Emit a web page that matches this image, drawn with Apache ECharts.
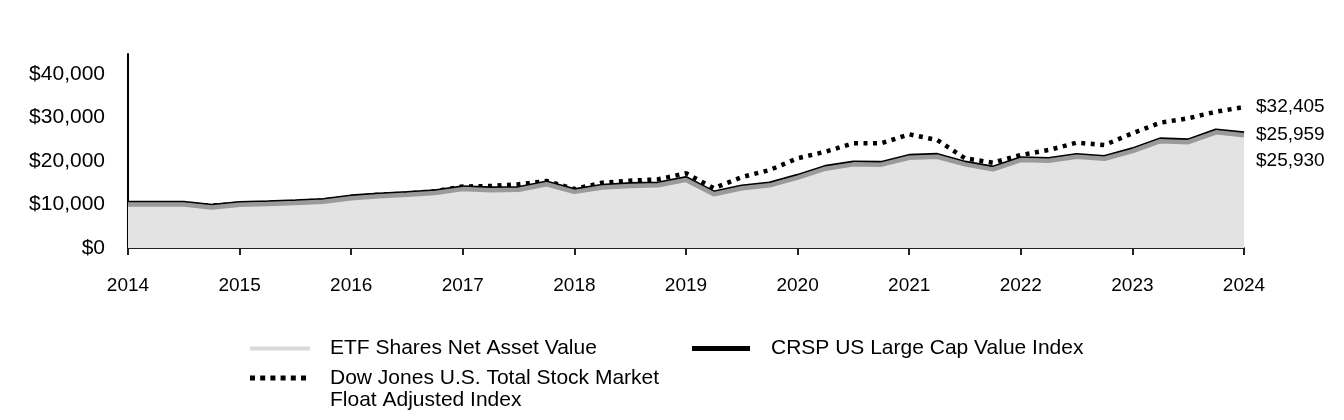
<!DOCTYPE html>
<html>
<head>
<meta charset="utf-8">
<style>
  html, body { margin: 0; padding: 0; background: #ffffff; }
  #chart { width: 1344px; height: 420px; }
</style>
<script src="https://cdn.jsdelivr.net/npm/echarts@6/dist/echarts.min.js"></script>
</head>
<body>
<div id="chart"></div>
<script>
// Quarterly categories (year labels shown at each year start)
const quarters = [
  '2014','2014 Q2','2014 Q3','2014 Q4',
  '2015','2015 Q2','2015 Q3','2015 Q4',
  '2016','2016 Q2','2016 Q3','2016 Q4',
  '2017','2017 Q2','2017 Q3','2017 Q4',
  '2018','2018 Q2','2018 Q3','2018 Q4',
  '2019','2019 Q2','2019 Q3','2019 Q4',
  '2020','2020 Q2','2020 Q3','2020 Q4',
  '2021','2021 Q2','2021 Q3','2021 Q4',
  '2022','2022 Q2','2022 Q3','2022 Q4',
  '2023','2023 Q2','2023 Q3','2023 Q4',
  '2024'
];

const seriesNames = [
  'ETF Shares Net Asset Value',
  'CRSP US Large Cap Value Index',
  'Dow Jones U.S. Total Stock Market Float Adjusted Index'
];

const etfNav = [10000,10000,9979,9309,9928,10098,10347,10616,11445,11894,12243,12632,
  13540,13289,13388,14655,12906,13893,14281,14419,15655,12350,13726,14413,
  16178,18241,19227,19155,20758,20985,19218,18069,20220,20038,20972,20511,
  22270,24558,24326,26603,25930];

const crspIndex = [10000,10000,9980,9310,9930,10100,10350,10620,11450,11900,12250,12640,
  13550,13300,13400,14670,12920,13910,14300,14440,15680,12370,13750,14440,
  16210,18280,19270,19200,20810,21040,19270,18120,20280,20100,21040,20580,
  22350,24650,24420,26710,25959];

const dowIndex = [10000,10050,10100,9750,10150,10350,10600,10900,11700,12250,12500,13050,
  14140,14250,14640,15400,13560,15010,15470,15790,17170,13730,16300,17930,
  20620,22140,24070,24070,26140,24830,20620,19610,21380,22530,24210,23680,
  26370,28810,29820,31340,32405];

const yTicks = [0, 10000, 20000, 30000, 40000];

const FONT = "'Liberation Sans', Arial, sans-serif";
const money = v => '$' + Math.round(v).toLocaleString('en-US');

const chart = echarts.init(document.getElementById('chart'), null, { renderer: 'canvas' });

const endLabelBase = {
  show: true,
  distance: 12,
  color: '#000',
  fontFamily: FONT,
  fontSize: 19,
  formatter: p => money(p.value)
};

chart.setOption({
  animation: false,
  backgroundColor: '#ffffff',
  textStyle: { fontFamily: FONT },
  grid: { left: 128, right: 100, top: 54, bottom: 172, containLabel: false },
  xAxis: {
    type: 'category',
    data: quarters,
    boundaryGap: false,
    axisLine: { show: true, lineStyle: { color: '#222', width: 2 } },
    axisTick: { show: true, interval: 3, length: 7, lineStyle: { color: '#222', width: 2 } },
    axisLabel: { interval: 3, color: '#000', fontSize: 19, fontFamily: FONT, margin: 28 },
    splitLine: { show: false }
  },
  yAxis: {
    type: 'value',
    min: yTicks[0],
    max: 44600,
    interval: 10000,
    axisLine: { show: true, lineStyle: { color: '#000', width: 2 } },
    axisTick: { show: false },
    splitLine: { show: false },
    axisLabel: {
      color: '#000', fontSize: 21, fontFamily: FONT, margin: 23,
      showMaxLabel: false,
      formatter: v => money(v)
    }
  },
  legend: [
    {
      data: [{ name: seriesNames[0], icon: 'rect', itemStyle: { color: '#d9d9d9' } }],
      left: 250, top: 338, padding: 0,
      itemWidth: 60, itemHeight: 4,
      selectedMode: false,
      textStyle: { color: '#000', fontSize: 21, fontFamily: FONT, padding: [0, 0, 0, 15] }
    },
    {
      data: [{ name: seriesNames[1], icon: 'rect', itemStyle: { color: '#000' } }],
      left: 692, top: 338, padding: 0,
      itemWidth: 58, itemHeight: 5,
      selectedMode: false,
      textStyle: { color: '#000', fontSize: 21, fontFamily: FONT, padding: [0, 0, 0, 16] }
    },
    {
      data: [{
        name: seriesNames[2],
        icon: 'path://M0,0h5v5h-5z M10.2,0h5v5h-5z M20.4,0h5v5h-5z M30.6,0h5v5h-5z M40.8,0h5v5h-5z M51,0h5v5h-5z',
        itemStyle: { color: '#000' }
      }],
      left: 250, top: 345, padding: 0,
      itemWidth: 56, itemHeight: 5,
      selectedMode: false,
      formatter: name => '\n' + name.replace(' Market ', ' Market\n'),
      textStyle: { color: '#000', fontSize: 21, fontFamily: FONT, lineHeight: 22, padding: [0, 0, 0, 19] }
    }
  ],
  series: [
    {
      name: seriesNames[2],
      type: 'line',
      data: dowIndex,
      showSymbol: false,
      symbol: 'none',
      z: 2,
      itemStyle: { color: '#000' },
      lineStyle: { color: '#000', width: 4.5, type: [4, 5.5], cap: 'butt' },
      endLabel: Object.assign({}, endLabelBase)
    },
    {
      name: seriesNames[1],
      type: 'line',
      data: crspIndex,
      showSymbol: false,
      symbol: 'none',
      z: 3,
      itemStyle: { color: '#000' },
      lineStyle: { color: '#000', width: 1 },
      endLabel: Object.assign({}, endLabelBase)
    },
    {
      name: seriesNames[0],
      type: 'line',
      data: etfNav,
      showSymbol: false,
      symbol: 'none',
      z: 4,
      itemStyle: { color: '#d9d9d9' },
      lineStyle: {
        color: '#9a9a9a', width: 4.5,
        shadowColor: '#000', shadowBlur: 0, shadowOffsetX: 0, shadowOffsetY: -1.6
      },
      areaStyle: { color: '#e3e3e3', opacity: 1 },
      endLabel: Object.assign({}, endLabelBase, { offset: [0, 26] })
    }
  ]
});
</script>
</body>
</html>
